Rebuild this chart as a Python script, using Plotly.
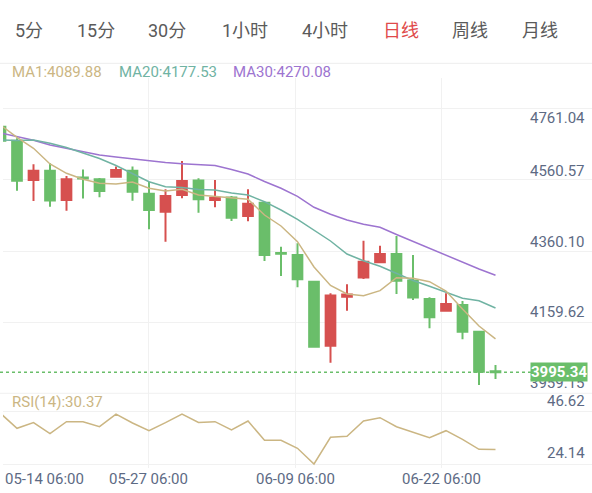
import plotly.graph_objects as go

# canvas / pane geometry (pixels)
W, H = 592, 493
M_L, M_R, M_T, M_B = 3, 0, 78, 25
SPLIT = 393.3

FONT = 'Roboto, "Noto Sans CJK SC", sans-serif'
GREEN = '#6abe6a'
RED = '#d6504f'
GRID = '#f1f1f1'
AXIS_TEXT = '#5d6a84'
C_MA1 = '#cbb683'
C_MA20 = '#70b3a3'
C_MA30 = '#9d74d0'

# ---------------------------------------------------------------- data
tabs = ['5分', '15分', '30分', '1小时', '4小时', '日线', '周线', '月线']
active_tab = '日线'

x_labels = ['05-14 06:00', '05-27 06:00', '06-09 06:00', '06-22 06:00']
x_label_pos = [0.16, 8.97, 17.85, 26.74]

price_labels = [4761.04, 4560.57, 4360.10, 4159.62, 3959.15]
rsi_labels = [46.62, 24.14]
last_price = 3995.34

open_ = [4690.8, 4651.0, 4539.9, 4566.2, 4483.3, 4547.0, 4541.9, 4549.2, 4566.2, 4501.1,
         4450.1, 4497.4, 4538.5, 4483.3, 4490.4, 4438.0, 4475.6, 4333.2, 4327.5, 4251.9,
         4070.7, 4209.5, 4263.8, 4306.9, 4330.4, 4255.3, 4202.9, 4169.8, 4186.0, 4110.4,
         3998.2]
high = [4696.0, 4658.0, 4584.4, 4587.2, 4551.2, 4569.6, 4545.6, 4578.1, 4578.1, 4535.1,
        4513.6, 4593.7, 4544.7, 4539.9, 4494.6, 4513.9, 4478.5, 4351.0, 4360.7, 4253.9,
        4219.1, 4244.6, 4367.7, 4353.6, 4381.3, 4327.5, 4207.8, 4219.1, 4197.3, 4112.3,
        4016.1]
low = [4650.3, 4509.6, 4480.4, 4464.3, 4453.0, 4487.5, 4490.9, 4547.5, 4481.3, 4400.3,
       4365.2, 4488.1, 4447.3, 4462.6, 4423.8, 4423.0, 4310.5, 4268.1, 4236.1, 4066.2,
       4022.6, 4169.8, 4259.6, 4304.0, 4217.1, 4200.1, 4120.0, 4167.0, 4088.8, 3959.15,
       3976.4]
close = [4651.2, 4538.0, 4566.2, 4481.9, 4541.9, 4544.2, 4508.8, 4568.2, 4506.8, 4455.0,
         4494.6, 4537.1, 4485.3, 4489.8, 4433.2, 4472.8, 4327.5, 4331.2, 4259.0, 4067.9,
         4212.9, 4215.7, 4308.6, 4330.4, 4254.8, 4207.2, 4151.1, 4188.8, 4110.4, 3997.1,
         3995.34]

ma1 = [4695.6, 4660.8, 4629.7, 4585.2, 4558.9, 4541.9, 4530.6, 4528.6, 4534.2, 4516.4,
       4508.8, 4513.6, 4497.4, 4493.8, 4488.1, 4485.3, 4440.8, 4409.7, 4365.2, 4293.6,
       4241.2, 4217.1, 4212.3, 4226.5, 4263.3, 4261.6, 4251.9, 4225.6, 4174.6, 4126.5,
       4089.88]
ma20 = [4653.2, 4651.8, 4653.2, 4643.8, 4631.9, 4617.2, 4600.8, 4581.0, 4558.3, 4535.1,
        4520.9, 4518.7, 4513.0, 4511.6, 4503.1, 4497.4, 4478.5, 4455.0, 4428.6, 4398.3,
        4367.2, 4330.4, 4311.4, 4295.5, 4275.7, 4255.3, 4238.9, 4222.2, 4204.9, 4198.1,
        4177.53]
ma30 = [4673.0, 4662.5, 4652.3, 4639.0, 4629.7, 4620.0, 4610.7, 4605.0, 4599.4, 4595.1,
        4589.5, 4586.1, 4584.6, 4581.0, 4569.6, 4556.9, 4535.7, 4516.4, 4493.8, 4462.6,
        4443.1, 4426.6, 4414.5, 4406.0, 4385.6, 4365.8, 4345.9, 4326.1, 4306.3, 4287.9,
        4270.08]
rsi = [45.9, 39.48, 41.97, 37.16, 42.32, 42.32, 40.17, 45.58, 41.76, 38.41,
       41.89, 45.58, 41.97, 42.32, 38.75, 42.62, 34.32, 34.32, 30.89, 24.14,
       35.61, 36.04, 42.62, 44.04, 40.17, 37.89, 35.44, 38.45, 34.75, 30.46,
       30.37]

idx = list(range(len(close)))


def px_x(px):
    return (px - M_L) / (W - M_L - M_R)


def px_y(py):
    return (H - M_B - py) / (H - M_T - M_B)


# ---------------------------------------------------------------- traces
fig = go.Figure()

fig.add_trace(go.Candlestick(
    x=idx, open=open_, high=high, low=low, close=close,
    increasing={'line': {'color': RED, 'width': 2}, 'fillcolor': RED},
    decreasing={'line': {'color': GREEN, 'width': 2}, 'fillcolor': GREEN},
    whiskerwidth=0, hoverinfo='skip', showlegend=False,
    xaxis='x', yaxis='y'))

for vals, color in [(ma30, C_MA30), (ma20, C_MA20), (ma1, C_MA1)]:
    fig.add_trace(go.Scatter(x=idx, y=vals, mode='lines',
                             line={'color': color, 'width': 1.5},
                             hoverinfo='skip', showlegend=False,
                             xaxis='x', yaxis='y'))

fig.add_trace(go.Scatter(x=idx, y=rsi, mode='lines',
                         line={'color': C_MA1, 'width': 1.5},
                         hoverinfo='skip', showlegend=False,
                         xaxis='x2', yaxis='y2'))

# ---------------------------------------------------------------- axes
split_frac = px_y(SPLIT)
x_range = [(M_L - 0.5) / 16.5, (W - 0.5) / 16.5]
main_range = [3935.92, 4828.73]
rsi_range = [22.42, 54.52]

xaxis_style = dict(range=x_range, showticklabels=False, ticks='',
                   tickmode='array', tickvals=x_label_pos[1:],
                   showgrid=True, gridcolor=GRID, gridwidth=1,
                   zeroline=False, showline=False, fixedrange=True)

annotations = []

# period tabs
tab_px = [29, 96, 167, 245, 325, 401, 470, 540]
for t, p in zip(tabs, tab_px):
    annotations.append(dict(
        text=t, x=px_x(p), y=px_y(30), xref='paper', yref='paper',
        xanchor='center', yanchor='middle', showarrow=False,
        font={'family': FONT, 'size': 18,
              'color': '#e04a4a' if t == active_tab else '#5a5a5a'}))

# MA legend
legend_px = [10, 117, 231]
for (name, vals, color), p in zip([('MA1', ma1, C_MA1), ('MA20', ma20, C_MA20),
                                    ('MA30', ma30, C_MA30)], legend_px):
    annotations.append(dict(
        text=f'{name}:{vals[-1]:.2f}', x=px_x(p), y=px_y(72),
        xref='paper', yref='paper', xanchor='left', yanchor='middle',
        showarrow=False, font={'family': FONT, 'size': 15, 'color': color}))

annotations.append(dict(
    text=f'RSI(14):{rsi[-1]:.2f}', x=px_x(10), y=px_y(402),
    xref='paper', yref='paper', xanchor='left', yanchor='middle',
    showarrow=False, font={'family': FONT, 'size': 15, 'color': C_MA1}))

# price scale labels
for v in price_labels:
    annotations.append(dict(
        text=f'{v:.2f}', x=px_x(587), y=v, xref='paper', yref='y',
        xanchor='right', yanchor='middle',
        yshift=-16 if v == max(price_labels) else 2,
        showarrow=False, font={'family': FONT, 'size': 15, 'color': AXIS_TEXT}))

# RSI scale labels
for v in rsi_labels:
    annotations.append(dict(
        text=f'{v:.2f}', x=px_x(587), y=v, xref='paper', yref='y2',
        xanchor='right', yanchor='bottom', yshift=0,
        showarrow=False, font={'family': FONT, 'size': 15, 'color': AXIS_TEXT}))

# last price tag
annotations.append(dict(
    text=f'<b>{last_price:.2f}</b>', x=px_x(588), y=last_price, xref='paper', yref='y',
    xanchor='right', yanchor='middle', showarrow=False, bgcolor=GREEN,
    borderpad=0, font={'family': FONT, 'size': 15, 'color': 'white'}))

# time labels
for i, (lab, pos) in enumerate(zip(x_labels, x_label_pos)):
    annotations.append(dict(
        text=lab, x=pos, y=px_y(479), xref='x2', yref='paper',
        xanchor='left' if i == 0 else 'center', yanchor='middle',
        showarrow=False, font={'family': FONT, 'size': 15, 'color': AXIS_TEXT}))

shapes = [
    # header separator
    dict(type='line', xref='paper', yref='paper', x0=px_x(0), x1=px_x(W),
         y0=px_y(63.3), y1=px_y(63.3), line={'color': '#ededed', 'width': 1}),
    # pane separator
    dict(type='line', xref='paper', yref='paper', x0=px_x(0), x1=px_x(W),
         y0=split_frac, y1=split_frac, line={'color': GRID, 'width': 1}),
    # last price dotted line
    dict(type='line', xref='paper', yref='y', x0=px_x(0), x1=px_x(532),
         y0=last_price, y1=last_price,
         line={'color': GREEN, 'width': 1.5, 'dash': 'dot'}),
]

fig.update_layout(
    width=W, height=H,
    margin={'l': M_L, 'r': M_R, 't': M_T, 'b': M_B, 'pad': 0},
    paper_bgcolor='white', plot_bgcolor='white',
    showlegend=False, hovermode=False, dragmode=False,
    boxgap=0.16,
    xaxis=dict(xaxis_style, anchor='y', rangeslider={'visible': False}),
    xaxis2=dict(xaxis_style, anchor='y2', matches='x'),
    yaxis=dict(domain=[split_frac, 1], range=main_range,
               tickmode='linear', tick0=3936.0, dtick=201.33,
               showticklabels=False, ticks='', showgrid=True, gridcolor=GRID,
               zeroline=False, showline=False, fixedrange=True),
    yaxis2=dict(domain=[0, split_frac], range=rsi_range,
                tickmode='array', tickvals=rsi_labels,
                showticklabels=False, ticks='', showgrid=True, gridcolor=GRID,
                zeroline=False, showline=False, fixedrange=True),
    annotations=annotations,
    shapes=shapes,
)

fig.write_html('out.html', config={'displayModeBar': False, 'staticPlot': True},
               post_script="document.body.style.margin='0';")
